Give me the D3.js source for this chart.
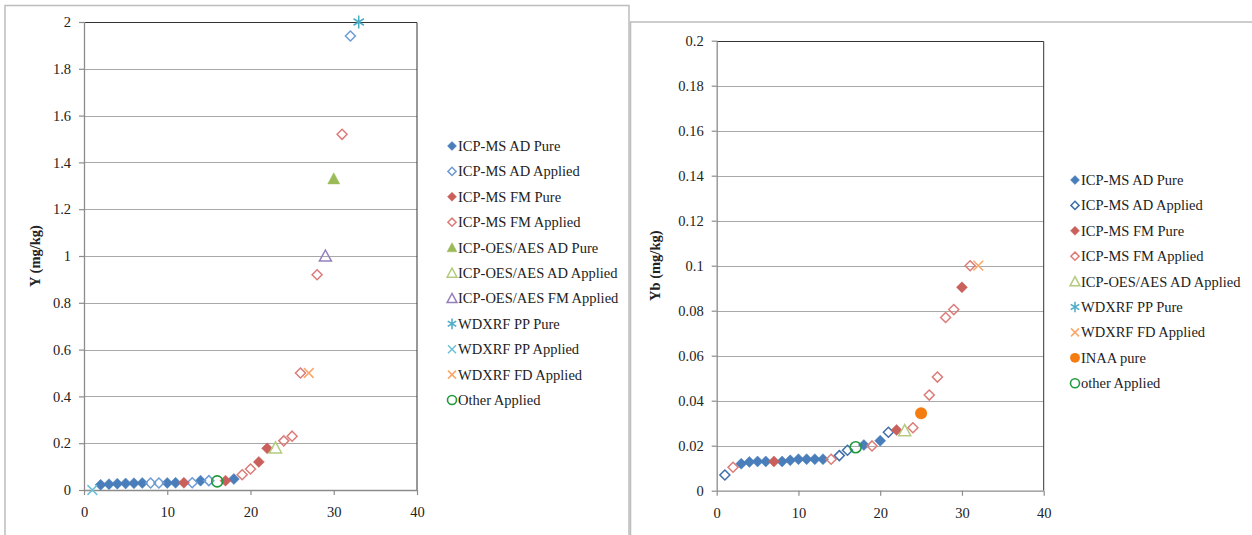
<!DOCTYPE html>
<html><head><meta charset="utf-8">
<script src="https://cdn.jsdelivr.net/npm/d3@7"></script>
<style>
body{margin:0;background:#fff;}
svg{display:block;font-family:"Liberation Serif","DejaVu Serif",serif;}
</style></head>
<body><svg id="c" width="1252" height="535"></svg>
<script>
// ---------- DATA ----------
// Left chart: Y (mg/kg)
const yTicksL = [0,0.2,0.4,0.6,0.8,1,1.2,1.4,1.6,1.8,2];
const xTicks = [0,10,20,30,40];
const Y_icpmsADPure = [[2,0.022],[3,0.025],[4,0.027],[5,0.028],[6,0.029],[7,0.03],[10,0.03],[11,0.031],[14,0.04],[18,0.047]];
const Y_icpmsADApplied = [[8,0.03],[9,0.03],[13,0.031],[15,0.04],[32,1.94]];
const Y_icpmsFMPure = [[12,0.031],[17,0.04],[21,0.12],[22,0.178]];
const Y_icpmsFMApplied = [[19,0.065],[20,0.09],[24,0.21],[25,0.23],[26,0.5],[28,0.92],[31,1.52]];
const Y_oesADPure = [[30,1.33]];
const Y_oesADApplied = [[23,0.18]];
const Y_oesFMApplied = [[29,1.0]];
const Y_wdPPPure = [[33,2.0]];
const Y_wdPPApplied = [[1,0]];
const Y_wdFDApplied = [[27,0.5]];
const Y_otherApplied = [[16,0.037]];

// Right chart: Yb (mg/kg)
const yTicksR = [0,0.02,0.04,0.06,0.08,0.1,0.12,0.14,0.16,0.18,0.2];
const Yb_icpmsADPure = [[3,0.012],[4,0.0128],[5,0.013],[6,0.013],[8,0.013],[9,0.0135],[10,0.014],[11,0.014],[12,0.014],[13,0.014],[18,0.0203],[20,0.0222]];
const Yb_icpmsADApplied = [[1,0.007],[15,0.0156],[16,0.018],[21,0.026]];
const Yb_icpmsFMPure = [[7,0.013],[22,0.027],[30,0.0904]];
const Yb_icpmsFMApplied = [[2,0.0104],[14,0.014],[19,0.0199],[24,0.028],[26,0.0425],[27,0.0505],[28,0.077],[29,0.0805],[31,0.1]];
const Yb_oesADApplied = [[23,0.0267]];
const Yb_wdPPPure = [];
const Yb_wdFDApplied = [[32,0.1]];
const Yb_inaaPure = [[25,0.0344]];
const Yb_otherApplied = [[17,0.0193]];

// ---------- STYLES ----------
const C = {
  blue:"#4a7ebb", blueOpenL:"#6f9bd4", blueOpenR:"#3f6ea8",
  red:"#c9605b", redOpen:"#dc7c78",
  green:"#9bbb59", greenOpen:"#b3cb7f", purple:"#9580bd",
  cyan:"#4bacc6", cyanL:"#6cc0d8", orange:"#f9a868", circ:"#1f9a3c", inaa:"#f47c10"
};
const FS = 14.5;

function shapePath(type, s){
  const h=s/2;
  switch(type){
    case "diamond": return `M0,${-h}L${h},0L0,${h}L${-h},0Z`;
    case "triangle": return `M0,${-h}L${h},${h*0.85}L${-h},${h*0.85}Z`;
    case "x": return `M${-h*0.75},${-h*0.75}L${h*0.75},${h*0.75}M${-h*0.75},${h*0.75}L${h*0.75},${-h*0.75}`;
    case "star": return `M0,${-h}L0,${h}M${-h*0.8},${-h*0.5}L${h*0.8},${h*0.5}M${-h*0.8},${h*0.5}L${h*0.8},${-h*0.5}`;
  }
}

function drawMarker(g, m, x, y, scale){
  const s=(m.size||10)*(scale||1);
  if(m.shape==="circle"){
    g.append("circle").attr("cx",x).attr("cy",y).attr("r",s/2)
      .attr("fill",m.fill?m.color:"none").attr("stroke",m.color).attr("stroke-width",m.fill?0:1.6);
  } else {
    g.append("path").attr("transform",`translate(${x},${y})`).attr("d",shapePath(m.shape,s))
      .attr("fill",m.fill?m.color:"none").attr("stroke",m.color)
      .attr("stroke-width",m.fill?0.5:1.5);
  }
}

const svg=d3.select("#c");

// panel frames
svg.append("path").attr("d","M5,535V5.5H629V535").attr("fill","none").attr("stroke","#bdbdbd").attr("stroke-width",1.5);
svg.append("path").attr("d","M630.5,535V22H1252").attr("fill","none").attr("stroke","#bdbdbd").attr("stroke-width",1.5);

function chart(cfg){
  const g=svg.append("g");
  const x=d3.scaleLinear().domain([0,40]).range([cfg.x0,cfg.x1]);
  const y=d3.scaleLinear().domain([0,cfg.ymax]).range([cfg.y0,cfg.y1]);
  // gridlines
  g.append("g").selectAll("line").data(cfg.yTicks.slice(1,-1)).join("line")
    .attr("x1",cfg.x0).attr("x2",cfg.x1).attr("y1",d=>Math.round(y(d))+0.5).attr("y2",d=>Math.round(y(d))+0.5)
    .attr("stroke","#a8a8a8").attr("stroke-width",1.2);
  // plot border top/right
  g.append("path").attr("d",`M${cfg.x0},${Math.round(cfg.y1)+0.5}H${cfg.x1}V${cfg.y0}`).attr("fill","none").attr("stroke","#333").attr("stroke-width",1);
  // axes
  const ya=d3.axisLeft(y).tickValues(cfg.yTicks).tickSize(5).tickPadding(8).tickFormat(d=>String(+d.toFixed(3)));
  const yg=g.append("g").attr("transform",`translate(${cfg.x0},0)`).call(ya);
  const xa=d3.axisBottom(x).tickValues(xTicks).tickSize(5).tickPadding(12);
  const xg=g.append("g").attr("transform",`translate(0,${cfg.y0})`).call(xa);
  [yg,xg].forEach(a=>{
    a.select(".domain").attr("stroke","#8c8c8c").attr("stroke-width",1.3);
    a.selectAll(".tick line").attr("stroke","#8c8c8c").attr("stroke-width",1.2);
    a.selectAll("text").attr("font-size",FS).attr("fill","#222").attr("font-family","Liberation Serif, serif");
  });
  xg.select(".domain").attr("d",`M${cfg.x0},0.5H${cfg.x1}`);
  yg.select(".domain").attr("d",`M0.5,${cfg.y0}V${cfg.y1}`);
  // title
  g.append("text").attr("transform",`translate(${cfg.titleX},${(cfg.y0+cfg.y1)/2}) rotate(-90)`)
    .attr("text-anchor","middle").attr("font-weight","bold").attr("font-size",FS).attr("fill","#222").text(cfg.title);
  // points
  const pts=g.append("g");
  cfg.series.forEach(s=>{
    s.data.forEach(d=>drawMarker(pts,s.m,x(d[0]),y(d[1])));
  });
  // legend
  const lg=g.append("g");
  cfg.series.forEach((s,i)=>{
    const ly=cfg.legY+i*25.4;
    drawMarker(lg,s.m,cfg.legX,ly,0.82);
    lg.append("text").attr("x",cfg.legX+6).attr("y",ly+5).attr("font-size",FS).attr("fill","#222").text(s.name);
  });
}

chart({
  x0:84,x1:417,y0:490,y1:22,ymax:2,yTicks:yTicksL,title:"Y (mg/kg)",titleX:40,
  legX:452,legY:146,
  series:[
    {name:"ICP-MS AD Pure",data:Y_icpmsADPure,m:{shape:"diamond",fill:true,color:C.blue,size:11}},
    {name:"ICP-MS AD Applied",data:Y_icpmsADApplied,m:{shape:"diamond",fill:false,color:C.blueOpenL,size:10}},
    {name:"ICP-MS FM Pure",data:Y_icpmsFMPure,m:{shape:"diamond",fill:true,color:C.red,size:11}},
    {name:"ICP-MS FM Applied",data:Y_icpmsFMApplied,m:{shape:"diamond",fill:false,color:C.redOpen,size:10}},
    {name:"ICP-OES/AES AD Pure",data:Y_oesADPure,m:{shape:"triangle",fill:true,color:C.green,size:12}},
    {name:"ICP-OES/AES AD Applied",data:Y_oesADApplied,m:{shape:"triangle",fill:false,color:C.greenOpen,size:12}},
    {name:"ICP-OES/AES FM Applied",data:Y_oesFMApplied,m:{shape:"triangle",fill:false,color:C.purple,size:12}},
    {name:"WDXRF PP Pure",data:Y_wdPPPure,m:{shape:"star",fill:false,color:C.cyan,size:13}},
    {name:"WDXRF PP Applied",data:Y_wdPPApplied,m:{shape:"x",fill:false,color:C.cyanL,size:13}},
    {name:"WDXRF FD Applied",data:Y_wdFDApplied,m:{shape:"x",fill:false,color:C.orange,size:13}},
    {name:"Other Applied",data:Y_otherApplied,m:{shape:"circle",fill:false,color:C.circ,size:11}}
  ]
});

chart({
  x0:716.7,x1:1043.7,y0:490.7,y1:40.7,ymax:0.2,yTicks:yTicksR,title:"Yb (mg/kg)",titleX:660,
  legX:1075,legY:180,
  series:[
    {name:"ICP-MS AD Pure",data:Yb_icpmsADPure,m:{shape:"diamond",fill:true,color:C.blue,size:11}},
    {name:"ICP-MS AD Applied",data:Yb_icpmsADApplied,m:{shape:"diamond",fill:false,color:C.blueOpenR,size:10}},
    {name:"ICP-MS FM Pure",data:Yb_icpmsFMPure,m:{shape:"diamond",fill:true,color:C.red,size:11}},
    {name:"ICP-MS FM Applied",data:Yb_icpmsFMApplied,m:{shape:"diamond",fill:false,color:C.redOpen,size:10}},
    {name:"ICP-OES/AES AD Applied",data:Yb_oesADApplied,m:{shape:"triangle",fill:false,color:C.greenOpen,size:12}},
    {name:"WDXRF PP Pure",data:Yb_wdPPPure,m:{shape:"star",fill:false,color:C.cyan,size:13}},
    {name:"WDXRF FD Applied",data:Yb_wdFDApplied,m:{shape:"x",fill:false,color:C.orange,size:13}},
    {name:"INAA pure",data:Yb_inaaPure,m:{shape:"circle",fill:true,color:C.inaa,size:12}},
    {name:"other Applied",data:Yb_otherApplied,m:{shape:"circle",fill:false,color:C.circ,size:11}}
  ]
});
</script></body></html>
